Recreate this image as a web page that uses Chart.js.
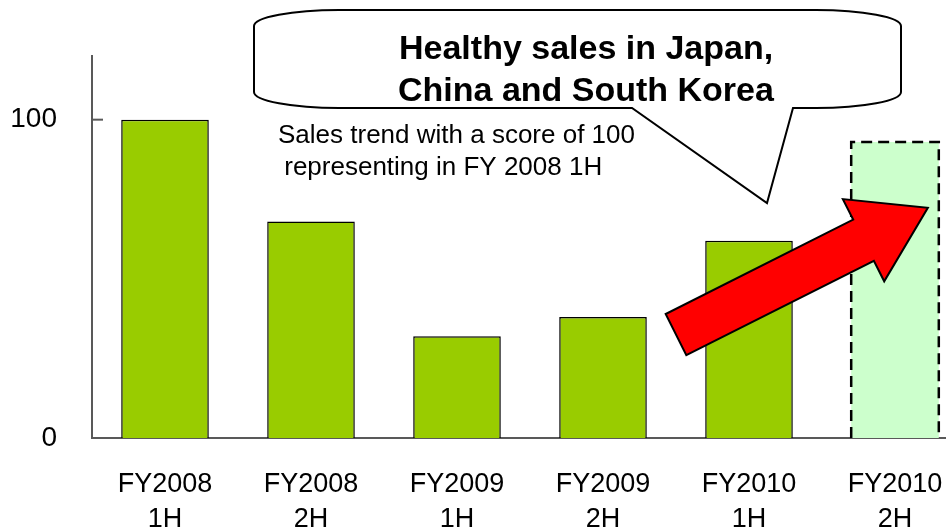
<!DOCTYPE html>
<html>
<head>
<meta charset="utf-8">
<script src="https://cdn.jsdelivr.net/npm/chart.js@4.4.0/dist/chart.umd.min.js"></script>
<style>
  html, body { margin: 0; padding: 0; background: #fff; overflow: hidden; }
  #wrap { width: 946px; height: 528px; overflow: hidden; position: relative; }
  canvas { display: block; }
</style>
</head>
<body>
<div id="wrap"><canvas id="salesChart" width="980" height="528"></canvas></div>
<script>
// Sales trend index, FY2008 1H = 100
const periods = [['FY2008', '1H'], ['FY2008', '2H'], ['FY2009', '1H'], ['FY2009', '2H'], ['FY2010', '1H'], ['FY2010', '2H']];
const salesIndex = [100, 68, 32, 38, 62, 93];
const projected = [false, false, false, false, false, true];
const yTicks = [0, 100];

const headline = ['Healthy sales in Japan,', 'China and South Korea'];
const note = ['Sales trend with a score of 100', ' representing in FY 2008 1H'];

const AXIS = '#595959';
const FONT = '"Liberation Sans", Arial, sans-serif';

// draws the dashed projected bar, the red trend arrow and the speech bubble
const overlay = {
  id: 'overlay',
  afterDatasetsDraw(chart) {
    const { ctx, scales: { x, y } } = chart;
    const meta = chart.getDatasetMeta(0);

    // dashed outline for projected bars
    meta.data.forEach((bar, i) => {
      if (!projected[i]) return;
      const { x: cx, y: top, base, width } = bar.getProps(['x', 'y', 'base', 'width'], true);
      const l = cx - width / 2, r = cx + width / 2;
      ctx.save();
      ctx.strokeStyle = '#000';
      ctx.lineWidth = 2.5;
      ctx.setLineDash([11, 6]);
      ctx.beginPath();
      ctx.moveTo(l, base);
      ctx.lineTo(l, top);
      ctx.lineTo(r, top);
      ctx.lineTo(r, base);
      ctx.stroke();
      ctx.restore();
    });

    // inside tick marks on the value axis
    ctx.save();
    ctx.strokeStyle = AXIS;
    ctx.lineWidth = 2;
    y.ticks.forEach((t) => {
      const py = y.getPixelForValue(t.value);
      ctx.beginPath();
      ctx.moveTo(x.left, py);
      ctx.lineTo(x.left + 11, py);
      ctx.stroke();
    });
    ctx.restore();

    // red block arrow, tail and tip anchored in data space
    const tx = x.getPixelForValue(3.5), ty = y.getPixelForValue(32.5);
    const hx = x.getPixelForValue(5.225), hy = y.getPixelForValue(72.3);
    const dx = hx - tx, dy = hy - ty, len = Math.hypot(dx, dy);
    const ux = dx / len, uy = dy / len, nx = -uy, ny = ux;
    const shaft = 23, head = 46, headLen = 72;
    const bx = hx - ux * headLen, by = hy - uy * headLen;
    const pts = [
      [tx + nx * shaft, ty + ny * shaft],
      [bx + nx * shaft, by + ny * shaft],
      [bx + nx * head, by + ny * head],
      [hx, hy],
      [bx - nx * head, by - ny * head],
      [bx - nx * shaft, by - ny * shaft],
      [tx - nx * shaft, ty - ny * shaft],
    ];
    ctx.save();
    ctx.beginPath();
    pts.forEach(([px, py], i) => (i ? ctx.lineTo(px, py) : ctx.moveTo(px, py)));
    ctx.closePath();
    ctx.fillStyle = '#ff0000';
    ctx.fill();
    ctx.strokeStyle = '#000';
    ctx.lineWidth = 2;
    ctx.lineJoin = 'miter';
    ctx.stroke();
    ctx.restore();

    // speech bubble
    const L = 254, R = 901, T = 10, B = 108, rx = 85, ry = 16;
    ctx.save();
    ctx.beginPath();
    ctx.moveTo(L + rx, T);
    ctx.lineTo(R - rx, T);
    ctx.ellipse(R - rx, T + ry, rx, ry, 0, -Math.PI / 2, 0);
    ctx.lineTo(R, B - ry);
    ctx.ellipse(R - rx, B - ry, rx, ry, 0, 0, Math.PI / 2);
    ctx.lineTo(793, B);
    ctx.lineTo(767, 203);
    ctx.lineTo(632, B);
    ctx.lineTo(L + rx, B);
    ctx.ellipse(L + rx, B - ry, rx, ry, 0, Math.PI / 2, Math.PI);
    ctx.lineTo(L, T + ry);
    ctx.ellipse(L + rx, T + ry, rx, ry, 0, Math.PI, Math.PI * 1.5);
    ctx.closePath();
    ctx.fillStyle = '#fff';
    ctx.fill();
    ctx.strokeStyle = '#000';
    ctx.lineWidth = 2;
    ctx.stroke();

    ctx.fillStyle = '#000';
    ctx.textAlign = 'left';
    ctx.textBaseline = 'alphabetic';
    ctx.font = 'bold 34px ' + FONT;
    ctx.fillText(headline[0], 399, 59);
    ctx.fillText(headline[1], 398, 101);

    ctx.font = '26px ' + FONT;
    ctx.fillText(note[0], 278, 143);
    ctx.fillText(note[1], 277, 175);
    ctx.restore();
  },
};

new Chart(document.getElementById('salesChart'), {
  type: 'bar',
  data: {
    labels: periods,
    datasets: [{
      data: salesIndex,
      backgroundColor: projected.map((p) => (p ? '#ccffcc' : '#99cc00')),
      borderColor: '#000',
      borderWidth: projected.map((p) => (p ? 0 : 1.5)),
      categoryPercentage: 1,
      barPercentage: 0.6,
    }],
  },
  options: {
    responsive: false,
    animation: false,
    layout: { padding: { top: 56, right: 12, bottom: 0, left: 0 } },
    plugins: { legend: { display: false }, tooltip: { enabled: false } },
    scales: {
      x: {
        grid: { display: false, drawTicks: false },
        border: { color: AXIS, width: 2 },
        ticks: { color: '#000', font: { family: FONT, size: 27, lineHeight: 1.3 }, padding: 29, maxRotation: 0, autoSkip: false },
        afterFit: (s) => { s.height = 90; },
      },
      y: {
        min: 0,
        max: 120,
        grid: { display: false, drawTicks: false },
        border: { color: AXIS, width: 2 },
        ticks: { color: '#000', font: { family: FONT, size: 28 }, padding: 35 },
        afterBuildTicks: (s) => { s.ticks = yTicks.map((v) => ({ value: v })); },
        afterFit: (s) => { s.width = 92; },
      },
    },
  },
  plugins: [overlay],
});
</script>
</body>
</html>
